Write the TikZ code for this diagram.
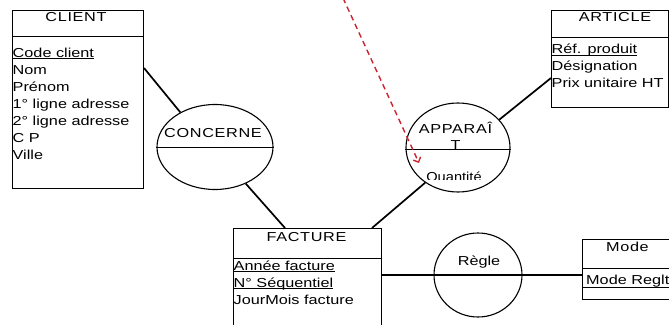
\documentclass[tikz,border=0pt]{standalone}
\usepackage{fontspec}
\setmainfont{Liberation Sans}[FakeStretch=1.25]
\newfontfamily\titlefont{Liberation Sans}[FakeStretch=1.25,LetterSpace=5]
\usetikzlibrary{shapes.geometric,arrows.meta,calc}

% underline at a fixed depth below the baseline
\newcommand\uln[1]{\setbox0\hbox{#1}\rlap{\rule[-1.8pt]{\wd0}{0.8pt}}\box0}

\begin{document}
\begin{tikzpicture}[x=1pt,y=-1pt,
  entity/.style={draw, line width=1pt, rectangle, anchor=north west, inner sep=0pt},
  relation/.style={draw, line width=1.1pt, ellipse, inner sep=0pt},
  sep/.style={line width=1pt},
  link/.style={line width=1.7pt},
  % multi-line lists: the base anchor sits on the last line
  attrs/.style={anchor=base west, align=left, inner sep=0pt, font=\fontsize{13}{17}\selectfont},
  title/.style={anchor=base, inner sep=0pt, font=\titlefont\fontsize{13}{17}\selectfont},
  plain/.style={anchor=base, inner sep=0pt, font=\fontsize{13}{17}\selectfont},
]
\useasboundingbox (0,0) rectangle (669,324);
\clip (0,0) rectangle (669,324);

% entities
\node[entity, minimum width=131pt, minimum height=178pt] (client) at (12,10) {};
\draw[sep] ($(client.north west)+(0,26)$) -- ($(client.north east)+(0,26)$);
\node[entity, minimum width=117pt, minimum height=97pt] (article) at (551,10) {};
\draw[sep] ($(article.north west)+(0,27)$) -- ($(article.north east)+(0,27)$);
\node[entity, minimum width=148pt, minimum height=120pt] (facture) at (233,228) {};
\draw[sep] ($(facture.north west)+(0,30)$) -- ($(facture.north east)+(0,30)$);
\node[entity, minimum width=120pt, minimum height=60pt] (mode) at (582,239) {};
\draw[sep] ($(mode.north west)+(0,29)$) -- ($(mode.north east)+(0,29)$);
\draw[sep] ($(mode.north west)+(0,48)$) -- ($(mode.north east)+(0,48)$);

% relations
\node[relation, minimum width=116pt, minimum height=85pt] (concerne) at (215,147) {};
\draw[sep] (concerne.west) -- (concerne.east);
\node[relation, minimum width=104pt, minimum height=89pt] (apparait) at (458,147.5) {};
\draw[sep] ($(apparait.west)+(0,1.5)$) -- ($(apparait.east)+(0,1.5)$);
\node[relation, minimum width=88pt, minimum height=84pt] (regle) at (478,275) {};

% titles
\node[title] at (76,21) {CLIENT};
\node[title] at (615,21.5) {ARTICLE};
\node[title] at (306.5,241) {FACTURE};
\node[title] at (627.5,251.5) {Mode};
\node[title] at (213,137) {CONCERNE};
\node[title] at (455.5,133) {APPARAÎ};
\node[title] at (455.7,149) {T};
\node[plain] at (479,265.7) {Règle};
\begin{scope}
  \clip (400,160) rectangle (515,179.5);
  \node[plain] at (454,181) {\scalebox{0.9}[1]{Quantité}};
\end{scope}

% attributes
\node[attrs] at (12.5,159.3) {\uln{Code client}\\Nom\\Prénom\\1° ligne adresse\\2° ligne adresse\\C P\\Ville};
\node[attrs] at (551.5,87.5) {\uln{Réf. produit}\\Désignation\\Prix unitaire HT};
\node[attrs] at (233.5,304) {\uln{Année facture}\\\uln{N° Séquentiel}\\JourMois facture};
\node[attrs] at (586,284.3) {Mode Reglt};

% links
\draw[link] ($(client.north east)+(0,58)$) -- (concerne.135);
\draw[link] (concerne.-50) -- ($(facture.north west)+(52,0)$);
\draw[link] (apparait.34) -- ($(article.north west)+(0,68)$);
\draw[link] (apparait.227) -- ($(facture.north west)+(139,0)$);
\draw[line width=1.2pt] (facture.east |- regle.center) -- (mode.west |- regle.center);

% dashed pointer
\coordinate (pfrom) at (343,-2);
\coordinate (pto) at (419,163);
\draw[color={rgb,255:red,205;green,35;blue,45}, line width=1.4pt, dash pattern=on 5.5pt off 4pt,
  -{Straight Barb[length=4pt,width=8pt]}] (pfrom) -- (pto);
\end{tikzpicture}
\end{document}
